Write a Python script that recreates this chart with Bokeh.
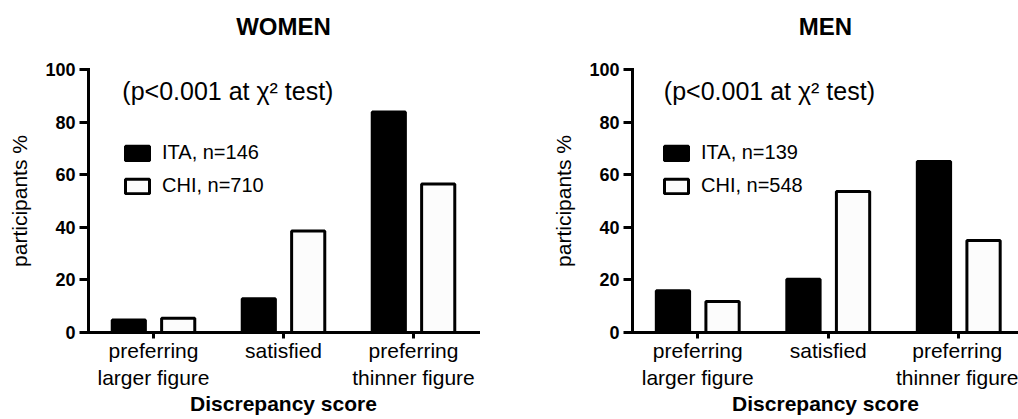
from bokeh.plotting import figure
from bokeh.layouts import row
from bokeh.models import Range1d, FixedTicker, Label, Legend, LegendItem, ColumnDataSource, Title
from bokeh.transform import dodge
from bokeh.embed import file_html
from bokeh.resources import INLINE

categories = ["preferring\nlarger figure", "satisfied", "preferring\nthinner figure"]
women_ita = [4.8, 12.8, 83.8]
women_chi = [5.4, 38.6, 56.5]
men_ita = [15.9, 20.2, 65.0]
men_chi = [11.8, 53.6, 35.0]
y_ticks = [0, 20, 40, 60, 80, 100]
panel_titles = ["WOMEN", "MEN"]
women_legend = ["ITA, n=146", "CHI, n=710"]
men_legend = ["ITA, n=139", "CHI, n=548"]
annotation = "(p<0.001 at \u03c7\u00b2 test)"
y_label = "participants %"
x_label = "Discrepancy score"

FONT = "Liberation Sans"
H = 419


def make_panel(title, ita, chi, labels, width, min_left, min_right, x_end, leg_x, ann_x):
    xs = list(range(len(categories)))
    src = ColumnDataSource(dict(x=xs, ita=ita, chi=chi))
    p = figure(width=width, height=H, x_range=Range1d(-0.5, x_end), y_range=Range1d(0, 100),
               output_backend="svg", toolbar_location=None,
               min_border_left=min_left, min_border_right=min_right,
               min_border_top=69, min_border_bottom=87)
    p.outline_line_color = None
    p.grid.visible = False
    p.background_fill_color = "white"
    # real title outermost, a blank spacer title between it and the frame
    p.title.text = title
    p.title.align = "center"
    p.title.text_font = FONT
    p.title.text_font_size = "24px"
    p.title.text_font_style = "bold"
    p.title.text_color = "black"
    p.title.standoff = 10
    p.add_layout(Title(text=" ", text_font_size="1px", standoff=22), "above")

    r1 = p.vbar(x=dodge('x', -0.19), top='ita', width=0.255, source=src,
                fill_color="black", line_color="black", line_width=3)
    r2 = p.vbar(x=dodge('x', 0.19), top='chi', width=0.255, source=src,
                fill_color="#fcfcfc", line_color="black", line_width=3)

    for ax in (p.xaxis[0], p.yaxis[0]):
        ax.axis_line_width = 3
        ax.axis_line_color = "black"
        ax.axis_line_cap = "square"
        ax.major_tick_line_width = 3
        ax.major_tick_line_color = "black"
        ax.major_tick_in = 0
        ax.minor_tick_line_color = None
        ax.major_label_text_font = FONT
        ax.axis_label_text_font = FONT
        ax.major_label_text_color = "black"
        ax.axis_label_text_color = "black"

    p.xaxis.ticker = FixedTicker(ticks=xs)
    p.xaxis.major_label_overrides = {i: c for i, c in zip(xs, categories)}
    p.xaxis.major_tick_out = 6
    p.xaxis.major_label_text_font_size = "21px"
    p.xaxis.major_label_standoff = 0
    p.xaxis.axis_label = x_label
    p.xaxis.axis_label_text_font_size = "21px"
    p.xaxis.axis_label_text_font_style = "bold"
    p.xaxis.axis_label_standoff = 0

    p.yaxis.ticker = FixedTicker(ticks=y_ticks)
    p.yaxis.major_tick_out = 9
    p.yaxis.major_label_text_font_size = "18px"
    p.yaxis.major_label_text_font_style = "bold"
    p.yaxis.major_label_standoff = 4
    p.yaxis.axis_label = y_label
    p.yaxis.axis_label_text_font_size = "21px"
    p.yaxis.axis_label_text_font_style = "normal"
    p.yaxis.axis_label_standoff = 11

    p.add_layout(Label(x=ann_x, y=91.7, text=annotation, text_align="left",
                       text_baseline="middle", text_font=FONT, text_font_size="25px",
                       text_color="black"))

    leg = Legend(items=[LegendItem(label=labels[0], renderers=[r1]),
                        LegendItem(label=labels[1], renderers=[r2])],
                 location=(leg_x, 135), orientation="vertical")
    leg.border_line_color = None
    leg.background_fill_alpha = 0
    leg.padding = 0
    leg.margin = 0
    leg.spacing = 10
    leg.glyph_width = 30
    leg.glyph_height = 18
    leg.label_standoff = 10
    leg.label_height = 20
    leg.label_text_font = FONT
    leg.label_text_font_size = "20px"
    leg.label_text_color = "black"
    p.add_layout(leg)
    return p


left = make_panel(panel_titles[0], women_ita, women_chi, women_legend,
                  width=488, min_left=88, min_right=10, x_end=2.5, leg_x=34, ann_x=-0.24)
right = make_panel(panel_titles[1], men_ita, men_chi, men_legend,
                   width=530, min_left=144, min_right=0, x_end=-0.5 + 386 / 130.5, leg_x=29, ann_x=-0.26)

layout = row(left, right, spacing=0)
open("out.html", "w").write(file_html(layout, INLINE))
